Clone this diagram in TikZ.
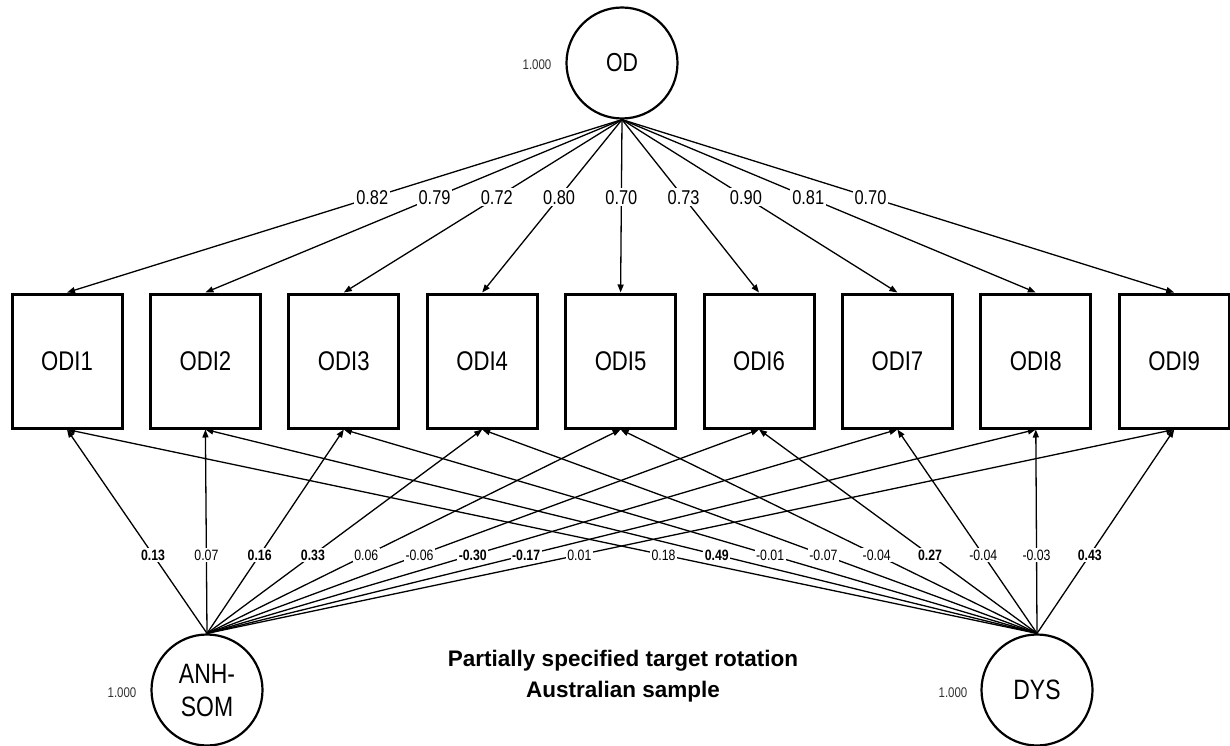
\documentclass[tikz,border=0pt]{standalone}
\usepackage{fontspec}
\setmainfont{Liberation Sans}
\newfontfamily\cond[FakeStretch=0.82]{Liberation Sans}
\usetikzlibrary{arrows.meta}
\begin{document}
\begin{tikzpicture}[x=1pt,y=-1pt,
  lat/.style={circle,draw,line width=2.2pt,minimum size=111pt,inner sep=0pt,align=center},
  obs/.style={rectangle,draw,line width=3pt,minimum width=110pt,minimum height=134pt,inner sep=0pt,font=\cond\fontsize{27}{30}\selectfont},
  pth/.style={line width=1.3pt,-{Triangle[length=8pt,width=6pt]}},
  lbl/.style={fill=white,inner sep=2pt,font=\cond\fontsize{20}{22}\selectfont},
  slbl/.style={fill=white,inner sep=1.5pt,font=\cond\fontsize{15}{17}\selectfont},
  var/.style={font=\cond\fontsize{14}{16}\selectfont,text=black!80},
  ttl/.style={align=center,font=\fontsize{22.5}{31}\selectfont\bfseries}]
\useasboundingbox (0,0) rectangle (1230,746);

\node[lat,font=\cond\fontsize{26}{30}\selectfont] (od) at (622,63) {OD};
\node[lat,font=\cond\fontsize{28}{33}\selectfont] (anh) at (207,690) {ANH-\\SOM};
\node[lat,font=\cond\fontsize{28}{33}\selectfont] (dys) at (1037,690) {DYS};
\node[var] (vod) at (537,65) {1.000};
\node[var] (vanh) at (122,693) {1.000};
\node[var] (vdys) at (953,693) {1.000};

\foreach \i in {1,...,9}{
  \node[obs] (odi\i) at ({67+138.4*(\i-1)},361) {ODI\i};
}

% loadings of OD
\foreach \i/\v in {1/0.82,2/0.79,3/0.72,4/0.80,5/0.70,6/0.73,7/0.90,8/0.81,9/0.70}{
  \draw[pth] (od.south) -- node[lbl,pos=0.45] (lod\i) {\v} (odi\i.north);
}

% cross loadings
\foreach \i in {1,...,9}{
  \draw[pth] (anh.north) -- (odi\i.south);
  \draw[pth] (dys.north) -- (odi\i.south);
}

\foreach \i/\v in {1/\textbf{0.13},2/0.07,3/\textbf{0.16},4/\textbf{0.33},5/0.06,6/-0.06,7/\textbf{-0.30},8/\textbf{-0.17},9/0.01}{
  \path (anh.north) -- node[slbl,pos=0.385] (la\i) {\v} (odi\i.south);
}
\foreach \i/\v in {1/0.18,2/\textbf{0.49},3/-0.01,4/-0.07,5/-0.04,6/\textbf{0.27},7/-0.04,8/-0.03,9/\textbf{0.43}}{
  \path (dys.north) -- node[slbl,pos=0.385] (ld\i) {\v} (odi\i.south);
}

\node[ttl] (title) at (623,676) {Partially specified target rotation\\Australian sample};
\end{tikzpicture}
\end{document}
